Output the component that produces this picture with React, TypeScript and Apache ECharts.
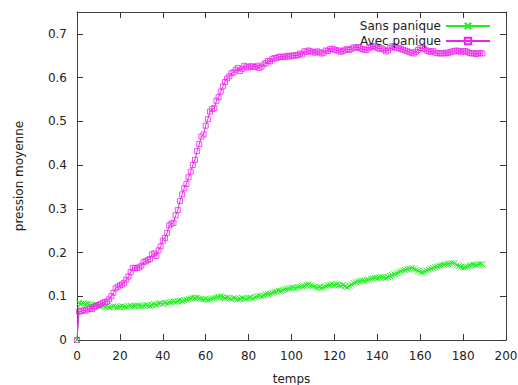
import React, { useEffect, useRef } from "react";
import * as echarts from "echarts";

const seriesNames = ["Sans panique", "Avec panique"];
const xTicks = [0, 20, 40, 60, 80, 100, 120, 140, 160, 180, 200];

const sansPanique = [
  0, 0.085, 0.083, 0.084, 0.082, 0.083, 0.081, 0.080, 0.081, 0.079,
  0.078, 0.077, 0.078, 0.076, 0.077, 0.075, 0.076, 0.077, 0.076, 0.075,
  0.076, 0.077, 0.076, 0.075, 0.077, 0.078, 0.077, 0.078, 0.079, 0.078,
  0.077, 0.078, 0.080, 0.079, 0.078, 0.080, 0.082, 0.081, 0.083, 0.084,
  0.083, 0.085, 0.084, 0.086, 0.087, 0.088, 0.087, 0.089, 0.090, 0.089,
  0.091, 0.092, 0.094, 0.095, 0.097, 0.096, 0.097, 0.095, 0.094, 0.093,
  0.094, 0.092, 0.093, 0.095, 0.096, 0.098, 0.099, 0.100, 0.098, 0.096,
  0.097, 0.095, 0.094, 0.096, 0.095, 0.093, 0.094, 0.096, 0.095, 0.094,
  0.096, 0.097, 0.095, 0.098, 0.100, 0.101, 0.100, 0.102, 0.104, 0.105,
  0.106, 0.108, 0.110, 0.111, 0.113, 0.112, 0.114, 0.116, 0.117, 0.118,
  0.119, 0.120, 0.119, 0.121, 0.122, 0.123, 0.124, 0.126, 0.127, 0.125,
  0.123, 0.122, 0.120, 0.121, 0.119, 0.121, 0.123, 0.125, 0.126, 0.127,
  0.126, 0.127, 0.125, 0.124, 0.126, 0.123, 0.121, 0.124, 0.127, 0.130,
  0.132, 0.134, 0.135, 0.136, 0.135, 0.137, 0.138, 0.140, 0.141, 0.142,
  0.141, 0.143, 0.144, 0.143, 0.142, 0.144, 0.146, 0.148, 0.150, 0.153,
  0.155, 0.157, 0.159, 0.160, 0.162, 0.163, 0.164, 0.163, 0.161, 0.158,
  0.156, 0.155, 0.157, 0.159, 0.161, 0.163, 0.165, 0.167, 0.168, 0.170,
  0.171, 0.172, 0.173, 0.174, 0.175, 0.176, 0.175, 0.171, 0.169, 0.167,
  0.166, 0.167, 0.168, 0.170, 0.171, 0.172, 0.171, 0.173, 0.174, 0.173,
];

const avecPanique = [
  0, 0.065, 0.066, 0.068, 0.067, 0.070, 0.072, 0.071, 0.075, 0.078,
  0.080, 0.082, 0.085, 0.087, 0.088, 0.093, 0.100, 0.108, 0.118, 0.122,
  0.125, 0.127, 0.131, 0.138, 0.145, 0.155, 0.165, 0.164, 0.165, 0.166,
  0.170, 0.178, 0.180, 0.183, 0.185, 0.196, 0.198, 0.192, 0.205, 0.214,
  0.227, 0.233, 0.245, 0.262, 0.266, 0.268, 0.285, 0.297, 0.318, 0.333,
  0.347, 0.357, 0.372, 0.385, 0.400, 0.412, 0.432, 0.448, 0.465, 0.470,
  0.490, 0.505, 0.522, 0.528, 0.530, 0.547, 0.555, 0.568, 0.580, 0.590,
  0.598, 0.603, 0.610, 0.612, 0.618, 0.622, 0.615, 0.620, 0.627, 0.625,
  0.623, 0.626, 0.625, 0.624, 0.627, 0.622, 0.625, 0.630, 0.633, 0.638,
  0.637, 0.642, 0.645, 0.644, 0.647, 0.648, 0.647, 0.648, 0.650, 0.648,
  0.650, 0.651, 0.650, 0.652, 0.655, 0.653, 0.660, 0.659, 0.662, 0.660,
  0.658, 0.657, 0.660, 0.658, 0.655, 0.657, 0.662, 0.661, 0.665, 0.666,
  0.664, 0.662, 0.662, 0.659, 0.661, 0.664, 0.665, 0.663, 0.666, 0.669,
  0.668, 0.670, 0.667, 0.665, 0.664, 0.663, 0.667, 0.670, 0.672, 0.671,
  0.668, 0.666, 0.667, 0.664, 0.660, 0.662, 0.668, 0.672, 0.670, 0.667,
  0.668, 0.665, 0.664, 0.662, 0.660, 0.658, 0.657, 0.655, 0.659, 0.663,
  0.668, 0.667, 0.665, 0.662, 0.660, 0.659, 0.661, 0.657, 0.656, 0.655,
  0.656, 0.655, 0.657, 0.656, 0.658, 0.660, 0.660, 0.662, 0.661, 0.658,
  0.660, 0.661, 0.659, 0.656, 0.655, 0.656, 0.654, 0.655, 0.656, 0.655,
];

const FONT = "DejaVu Sans";
const GREEN = "#22ee22";
const MAGENTA = "#ee22ee";
const FRAME = "#444444";
const TICK = "#333333";
const TEXT = "#222222";

function axisLine() {
  return { show: true, onZero: false, lineStyle: { color: FRAME, width: 1 } };
}
function axisTick() {
  return { show: true, inside: true, length: 6, lineStyle: { color: TICK, width: 1 } };
}

export default function App() {
  const ref = useRef<HTMLDivElement>(null);
  useEffect(() => {
    if (!ref.current) return;
    const chart = echarts.init(ref.current, undefined, { renderer: "svg" });
    const toPairs = (arr: number[]) => arr.map((v, i) => [i, v]);
    chart.setOption({
      animation: false,
      backgroundColor: "#ffffff",
      textStyle: { fontFamily: FONT },
      grid: { left: 77, right: 12, top: 12, bottom: 45, containLabel: false, outerBoundsMode: "none" },
      legend: {
        orient: "vertical",
        right: 22,
        top: 15,
        align: "right",
        itemWidth: 44,
        itemHeight: 8,
        itemGap: 3,
        data: seriesNames,
        textStyle: { fontFamily: FONT, fontSize: 12, color: TEXT },
      },
      xAxis: [
        {
          type: "value",
          min: xTicks[0],
          max: xTicks[xTicks.length - 1],
          interval: 20,
          position: "bottom",
          name: "temps",
          nameLocation: "middle",
          nameGap: 33,
          nameTextStyle: { fontFamily: FONT, fontSize: 12, color: TEXT },
          axisLine: axisLine(),
          axisTick: axisTick(),
          axisLabel: { fontFamily: FONT, fontSize: 12, color: TEXT, margin: 10 },
          splitLine: { show: false },
        },
        {
          type: "value",
          min: xTicks[0],
          max: xTicks[xTicks.length - 1],
          interval: 20,
          position: "top",
          axisLine: axisLine(),
          axisTick: axisTick(),
          axisLabel: { show: false },
          splitLine: { show: false },
        },
      ],
      yAxis: [
        {
          type: "value",
          min: 0,
          max: 0.75,
          interval: 0.1,
          position: "left",
          name: "pression moyenne",
          nameLocation: "middle",
          nameGap: 52,
          nameTextStyle: { fontFamily: FONT, fontSize: 12, color: TEXT },
          axisLine: axisLine(),
          axisTick: axisTick(),
          axisLabel: { fontFamily: FONT, fontSize: 12, color: TEXT, margin: 10, showMaxLabel: false },
          splitLine: { show: false },
        },
        {
          type: "value",
          min: 0,
          max: 0.75,
          interval: 0.1,
          position: "right",
          axisLine: axisLine(),
          axisTick: axisTick(),
          axisLabel: { show: false },
          splitLine: { show: false },
        },
      ],
      series: [
        {
          name: seriesNames[0],
          type: "line",
          data: toPairs(sansPanique),
          symbol: "path://M0 0L10 10M10 0L0 10",
          symbolSize: 6,
          showAllSymbol: true,
          lineStyle: { color: GREEN, width: 1 },
          itemStyle: { color: "transparent", borderColor: GREEN, borderWidth: 1 },
          z: 2,
        },
        {
          name: seriesNames[1],
          type: "line",
          data: toPairs(avecPanique),
          symbol: "rect",
          symbolSize: 5,
          showAllSymbol: true,
          lineStyle: { color: MAGENTA, width: 1 },
          itemStyle: { color: "transparent", borderColor: MAGENTA, borderWidth: 0.8 },
          z: 3,
        },
      ],
    });
    return () => chart.dispose();
  }, []);
  return (
    <div
      ref={ref}
      style={{ position: "absolute", left: 0, top: 0, width: 518, height: 385, background: "#fff" }}
    />
  );
}
